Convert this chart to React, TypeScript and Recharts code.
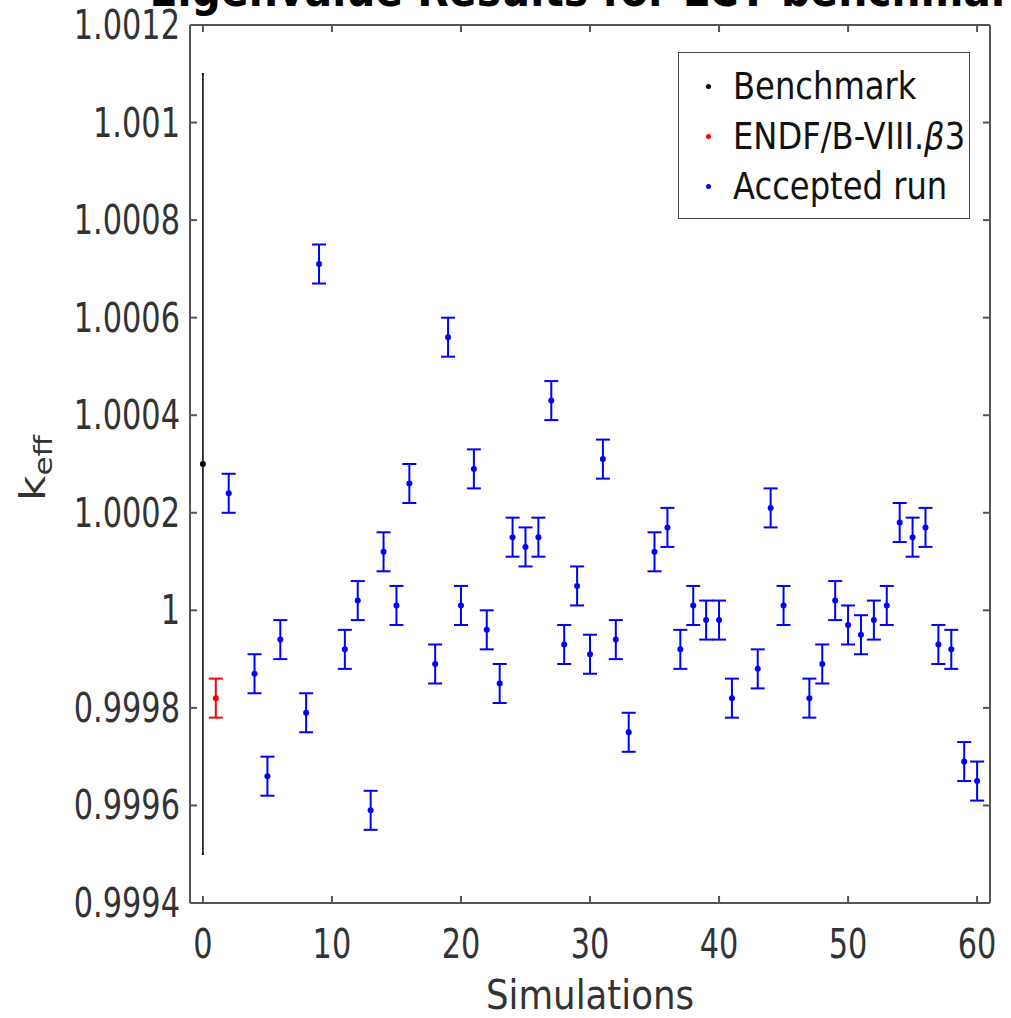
import { ComposedChart, ErrorBar, Scatter, XAxis, YAxis } from "recharts";

const FONT = "'DejaVu Sans', sans-serif";
const INK = "#333333";
const FRAME = "#555555";

// simulation index -> k_eff for the accepted runs (sigma)
const runIds = [
  2, 4, 5, 6, 8, 9, 11, 12, 13, 14, 15, 16, 18, 19, 20, 21, 22, 23, 24, 25, 26,
  27, 28, 29, 30, 31, 32, 33, 35, 36, 37, 38, 39, 40, 41, 43, 44, 45, 47, 48,
  49, 50, 51, 52, 53, 54, 55, 56, 57, 58, 59, 60,
];
const runKeff = [
  1.00024, 0.99987, 0.99966, 0.99994, 0.99979, 1.00071, 0.99992, 1.00002,
  0.99959, 1.00012, 1.00001, 1.00026, 0.99989, 1.00056, 1.00001, 1.00029,
  0.99996, 0.99985, 1.00015, 1.00013, 1.00015, 1.00043, 0.99993, 1.00005,
  0.99991, 1.00031, 0.99994, 0.99975, 1.00012, 1.00017, 0.99992, 1.00001,
  0.99998, 0.99998, 0.99982, 0.99988, 1.00021, 1.00001, 0.99982, 0.99989,
  1.00002, 0.99997, 0.99995, 0.99998, 1.00001, 1.00018, 1.00015, 1.00017,
  0.99993, 0.99992, 0.99969, 0.99965,
];
const runSigma = 0.00004;

const benchmark = [{ x: 0, y: 1.0003, err: 0.0008 }];
const endf = [{ x: 1, y: 0.99982, err: 0.00004 }];
const accepted = runIds.map((x, i) => ({ x, y: runKeff[i], err: runSigma }));

const xTicks = [0, 10, 20, 30, 40, 50, 60];
const yTicks = [
  0.9994, 0.9996, 0.9998, 1, 1.0002, 1.0004, 1.0006, 1.0008, 1.001, 1.0012,
];

const legendItems = [
  { name: "Benchmark", color: "#000000" },
  { name: "ENDF/B-VIII.β3", color: "#ff0000" },
  { name: "Accepted run", color: "#0000ff" },
];

const fmt = (v: number) => String(Number(v.toFixed(4)));

const YTickLabel = ({ x, y, payload }: any) => (
  <text
    transform={`translate(${x},${y}) scale(0.76,1)`}
    dy={14}
    textAnchor="end"
    fontSize={40}
    fill={INK}
    fontFamily={FONT}
  >
    {fmt(payload.value)}
  </text>
);

const XTickLabel = ({ x, y, payload }: any) => (
  <text
    transform={`translate(${x},${y}) scale(0.76,1)`}
    textAnchor="middle"
    fontSize={40}
    fill={INK}
    fontFamily={FONT}
  >
    {payload.value}
  </text>
);

const NoTick = () => <g />;

const dot = (color: string) => (p: any) =>
  <circle cx={p.cx} cy={p.cy} r={3} fill={color} />;

const LegendBox = () => (
  <div
    style={{
      position: "absolute",
      left: 678,
      top: 52,
      width: 292,
      height: 167,
      boxSizing: "border-box",
      border: "1.5px solid #444",
      background: "#fff",
      fontFamily: FONT,
      color: "#111",
    }}
  >
    {legendItems.map((item, i) => (
      <div
        key={item.name}
        style={{
          position: "absolute",
          left: 0,
          top: 8 + i * 50,
          height: 50,
          width: 292,
          display: "flex",
          alignItems: "center",
        }}
      >
        <span
          style={{
            position: "absolute",
            left: 27,
            width: 5,
            height: 5,
            borderRadius: 3,
            background: item.color,
          }}
        />
        <span
          style={{
            position: "absolute",
            left: 54,
            fontSize: 37,
            whiteSpace: "nowrap",
            transform: "scaleX(0.87)",
            transformOrigin: "left center",
          }}
        >
          {item.name.includes("β") ? (
            <>
              ENDF/B-VIII.<i>β</i>3
            </>
          ) : (
            item.name
          )}
        </span>
      </div>
    ))}
  </div>
);

const Title = () => (
  <div
    style={{
      position: "absolute",
      left: 594,
      top: 0,
      height: 0,
      width: 0,
      overflow: "visible",
    }}
  >
    <div
      style={{
        position: "absolute",
        left: 0,
        bottom: -13,
        transform: "translateX(-50%) scaleX(0.89)",
        whiteSpace: "nowrap",
        fontFamily: FONT,
        fontWeight: "bold",
        fontSize: 46,
        lineHeight: "46px",
        color: "#000",
      }}
    >
      Eigenvalue Results for LCT benchmark
    </div>
  </div>
);

const App = () => (
  <div
    style={{
      position: "absolute",
      left: 0,
      top: 0,
      width: 1011,
      height: 1018,
      background: "#fff",
      overflow: "hidden",
    }}
  >
    <ComposedChart
      width={1011}
      height={1018}
      margin={{ top: 24, right: 20, bottom: 0, left: 0 }}
    >
      <XAxis
        xAxisId="bottom"
        type="number"
        dataKey="x"
        domain={[-1, 61]}
        ticks={xTicks}
        allowDataOverflow
        height={115}
        tickSize={-7}
        tickMargin={62}
        tick={XTickLabel}
        stroke={FRAME}
        strokeWidth={2}
        label={{
          content: ({ viewBox }: any) => (
            <text
              transform={`translate(${viewBox.x + viewBox.width / 2},${viewBox.y + 106}) scale(0.89,1)`}
              textAnchor="middle"
              fontSize={40}
              fill={INK}
              fontFamily={FONT}
            >
              Simulations
            </text>
          ),
        }}
      />
      <XAxis
        xAxisId="top"
        orientation="top"
        type="number"
        dataKey="x"
        domain={[-1, 61]}
        ticks={xTicks}
        allowDataOverflow
        height={1}
        tickSize={-7}
        tick={NoTick}
        stroke={FRAME}
        strokeWidth={2}
      />
      <YAxis
        yAxisId="left"
        type="number"
        dataKey="y"
        domain={[0.9994, 1.0012]}
        ticks={yTicks}
        allowDataOverflow
        width={190}
        tickSize={-7}
        tickMargin={17}
        tick={YTickLabel}
        stroke={FRAME}
        strokeWidth={2}
        label={{
          content: ({ viewBox }: any) => (
            <text
              transform={`translate(${viewBox.x + 45},${viewBox.y + viewBox.height / 2 + 37}) rotate(-90) scale(1,0.8)`}
              fill={INK}
              fontFamily={FONT}
            >
              <tspan fontSize={44}>k</tspan>
              <tspan fontSize={31} dy={9}>
                eff
              </tspan>
            </text>
          ),
        }}
      />
      <YAxis
        yAxisId="right"
        orientation="right"
        type="number"
        dataKey="y"
        domain={[0.9994, 1.0012]}
        ticks={yTicks}
        allowDataOverflow
        width={1}
        tickSize={-7}
        tick={NoTick}
        stroke={FRAME}
        strokeWidth={2}
      />
      <Scatter
        name="Benchmark"
        data={benchmark}
        xAxisId="bottom"
        yAxisId="left"
        shape={dot("#000000")}
        isAnimationActive={false}
      >
        <ErrorBar
          dataKey="err"
          direction="y"
          width={1}
          stroke="#000000"
          strokeWidth={1.5}
          isAnimationActive={false}
        />
      </Scatter>
      <Scatter
        name="ENDF/B-VIII.β3"
        data={endf}
        xAxisId="bottom"
        yAxisId="left"
        shape={dot("#ff0000")}
        isAnimationActive={false}
      >
        <ErrorBar
          dataKey="err"
          direction="y"
          width={7}
          stroke="#ff0000"
          strokeWidth={2}
          isAnimationActive={false}
        />
      </Scatter>
      <Scatter
        name="Accepted run"
        data={accepted}
        xAxisId="bottom"
        yAxisId="left"
        shape={dot("#0000ff")}
        isAnimationActive={false}
      >
        <ErrorBar
          dataKey="err"
          direction="y"
          width={7}
          stroke="#0000ff"
          strokeWidth={2}
          isAnimationActive={false}
        />
      </Scatter>
    </ComposedChart>
    <Title />
    <LegendBox />
  </div>
);

export default App;
